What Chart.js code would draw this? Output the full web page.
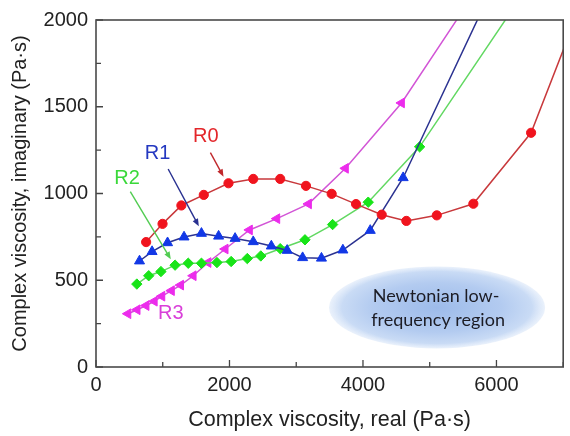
<!DOCTYPE html>
<html>
<head>
<meta charset="utf-8">
<script src="https://cdn.jsdelivr.net/npm/chart.js@4.4.1/dist/chart.umd.min.js"></script>
<style>
  html, body { margin: 0; padding: 0; background: #fff; }
  #wrap { width: 570px; height: 436px; }
</style>
</head>
<body>
<div id="wrap"><canvas id="viscChart" width="570" height="436"></canvas></div>
<script>
// Cole-Cole style plot: imaginary vs real complex viscosity (Pa·s)
const r0Real = [751, 997, 1279, 1615, 1985, 2356, 2760, 3146, 3531, 3896, 4281, 4650, 5106, 5654, 6519, 7150];
const r0Imag = [720, 825, 931, 992, 1059, 1084, 1084, 1044, 998, 939, 878, 842, 874, 941, 1350, 1975];

const r1Real = [652, 840, 1072, 1319, 1580, 1837, 2084, 2356, 2627, 2864, 3096, 3378, 3699, 4109, 4602, 5900];
const r1Imag = [611, 665, 716, 749, 770, 754, 741, 722, 697, 672, 630, 627, 674, 787, 1091, 2152];

const r2Real = [612, 790, 973, 1185, 1382, 1580, 1812, 2025, 2267, 2469, 2760, 3131, 3545, 4079, 4849, 6300];
const r2Imag = [478, 526, 550, 587, 598, 598, 602, 608, 625, 640, 682, 733, 821, 950, 1269, 2095];

const r3Real = [479, 617, 751, 874, 988, 1131, 1269, 1457, 1679, 1936, 2300, 2710, 3185, 3738, 4578, 5700];
const r3Imag = [307, 330, 354, 379, 408, 440, 472, 526, 602, 680, 790, 855, 940, 1145, 1522, 2172];

const xMajor = [0, 2000, 4000, 6000];
const yMajor = [0, 500, 1000, 1500, 2000];

// series labels and their callout arrows, in data units
const callouts = [
  { text: 'R0', color: '#e3262a', arrow: '#c0282c', at: [1644, 1326], from: [1714, 1236], to: [1911, 1097] },
  { text: 'R1', color: '#2438c0', arrow: '#283090', at: [923, 1230], from: [1081, 1141], to: [1541, 811] },
  { text: 'R2', color: '#3ad83a', arrow: '#52cc52', at: [464, 1087], from: [514, 1011], to: [1121, 621] },
  { text: 'R3', color: '#d93fd9', at: [1121, 307] }
];

const regionCenter = [5110, 343];
const regionText = ['Newtonian low-', 'frequency region'];

const pts = (xs, ys) => xs.map((x, i) => ({ x: x, y: ys[i] }));

const FONT = '"Liberation Sans", Arial, sans-serif';

const decor = {
  id: 'decor',
  beforeDatasetsDraw(chart) {
    const { ctx, scales: { x, y } } = chart;
    const cx = x.getPixelForValue(regionCenter[0]);
    const cy = y.getPixelForValue(regionCenter[1]);
    const rx = 108, ry = 41;
    ctx.save();
    ctx.translate(cx, cy);
    ctx.scale(1, ry / rx);
    const g = ctx.createRadialGradient(0, 0, 0, 0, 0, rx);
    g.addColorStop(0, '#9dbbea');
    g.addColorStop(0.6, '#b3cbf0');
    g.addColorStop(0.88, '#c9dbf5');
    g.addColorStop(1, 'rgba(214,228,248,0.5)');
    ctx.fillStyle = g;
    ctx.beginPath();
    ctx.arc(0, 0, rx, 0, Math.PI * 2);
    ctx.fill();
    ctx.restore();

    ctx.save();
    ctx.fillStyle = '#1c1c24';
    ctx.font = '18px Lato, "Open Sans", sans-serif';
    ctx.textAlign = 'center';
    ctx.textBaseline = 'middle';
    ctx.fillText(regionText[0], cx - 1, cy - 11);
    ctx.fillText(regionText[1], cx + 1, cy + 13);
    ctx.restore();
  },
  afterDatasetsDraw(chart) {
    const { ctx, chartArea: a, scales: { x, y } } = chart;
    ctx.save();
    // inward tick marks
    ctx.strokeStyle = '#444';
    ctx.lineWidth = 1.3;
    ctx.beginPath();
    x.ticks.forEach(t => {
      const px = x.getPixelForValue(t.value);
      const len = xMajor.includes(t.value) ? 7 : 5;
      ctx.moveTo(px, a.bottom);
      ctx.lineTo(px, a.bottom - len);
    });
    y.ticks.forEach(t => {
      const py = y.getPixelForValue(t.value);
      const len = yMajor.includes(t.value) ? 7 : 5;
      ctx.moveTo(a.left, py);
      ctx.lineTo(a.left + len, py);
    });
    ctx.stroke();
    // frame
    ctx.strokeStyle = '#4a4a4a';
    ctx.lineWidth = 1.6;
    ctx.strokeRect(a.left, a.top, a.right - a.left, a.bottom - a.top);

    // callouts
    ctx.font = '20px ' + FONT;
    ctx.textAlign = 'center';
    ctx.textBaseline = 'middle';
    callouts.forEach(c => {
      ctx.fillStyle = c.color;
      ctx.fillText(c.text, x.getPixelForValue(c.at[0]), y.getPixelForValue(c.at[1]));
      if (!c.from) return;
      const x1 = x.getPixelForValue(c.from[0]), y1 = y.getPixelForValue(c.from[1]);
      const x2 = x.getPixelForValue(c.to[0]), y2 = y.getPixelForValue(c.to[1]);
      const ang = Math.atan2(y2 - y1, x2 - x1);
      const head = 8, spread = 0.38;
      ctx.strokeStyle = c.arrow;
      ctx.fillStyle = c.arrow;
      ctx.lineWidth = 1.4;
      ctx.beginPath();
      ctx.moveTo(x1, y1);
      ctx.lineTo(x2 - Math.cos(ang) * head * 0.8, y2 - Math.sin(ang) * head * 0.8);
      ctx.stroke();
      ctx.beginPath();
      ctx.moveTo(x2, y2);
      ctx.lineTo(x2 - head * Math.cos(ang - spread), y2 - head * Math.sin(ang - spread));
      ctx.lineTo(x2 - head * Math.cos(ang + spread), y2 - head * Math.sin(ang + spread));
      ctx.closePath();
      ctx.fill();
    });
    ctx.restore();
  }
};

const series = (data, line, fill, style, radius, rotation) => ({
  data: data,
  borderColor: line,
  borderWidth: 1.5,
  backgroundColor: fill,
  pointBackgroundColor: fill,
  pointBorderColor: fill,
  pointBorderWidth: 1,
  pointStyle: style,
  pointRadius: radius,
  pointRotation: rotation || 0,
  tension: 0,
  fill: false,
  clip: 0
});

new Chart(document.getElementById('viscChart'), {
  type: 'line',
  data: {
    datasets: [
      series(pts(r0Real, r0Imag), '#c8393c', '#f0141e', 'circle', 4.6),
      series(pts(r1Real, r1Imag), '#2c3391', '#1238e6', 'triangle', 5.8),
      series(pts(r2Real, r2Imag), '#62d862', '#18e418', 'rectRot', 5.2),
      series(pts(r3Real, r3Imag), '#d255d6', '#ec2cec', 'triangle', 5.6, -90)
    ]
  },
  options: {
    responsive: false,
    animation: false,
    layout: { padding: { top: 17, right: 2, left: 0, bottom: 0 } },
    plugins: { legend: { display: false }, tooltip: { enabled: false } },
    scales: {
      x: {
        type: 'linear',
        min: 0,
        max: 7000,
        grid: { display: false, drawTicks: false },
        border: { display: false },
        ticks: {
          stepSize: 1000,
          padding: 6,
          color: '#222',
          font: { family: FONT, size: 20 },
          callback: v => xMajor.includes(v) ? v : ''
        },
        title: {
          display: true,
          text: 'Complex viscosity, real (Pa·s)',
          color: '#222',
          font: { family: FONT, size: 21.5 },
          padding: { top: 0, bottom: 3 }
        },
        afterFit: s => { s.height = 69; }
      },
      y: {
        min: 0,
        max: 2000,
        grid: { display: false, drawTicks: false },
        border: { display: false },
        ticks: {
          stepSize: 250,
          padding: 8,
          color: '#222',
          font: { family: FONT, size: 20 },
          callback: v => yMajor.includes(v) ? v : ''
        },
        title: {
          display: true,
          text: 'Complex viscosity, imaginary (Pa·s)',
          color: '#222',
          font: { family: FONT, size: 20 },
          padding: { top: 8, bottom: 0 }
        },
        afterFit: s => { s.width = 96; }
      }
    }
  },
  plugins: [decor]
});
</script>
</body>
</html>
